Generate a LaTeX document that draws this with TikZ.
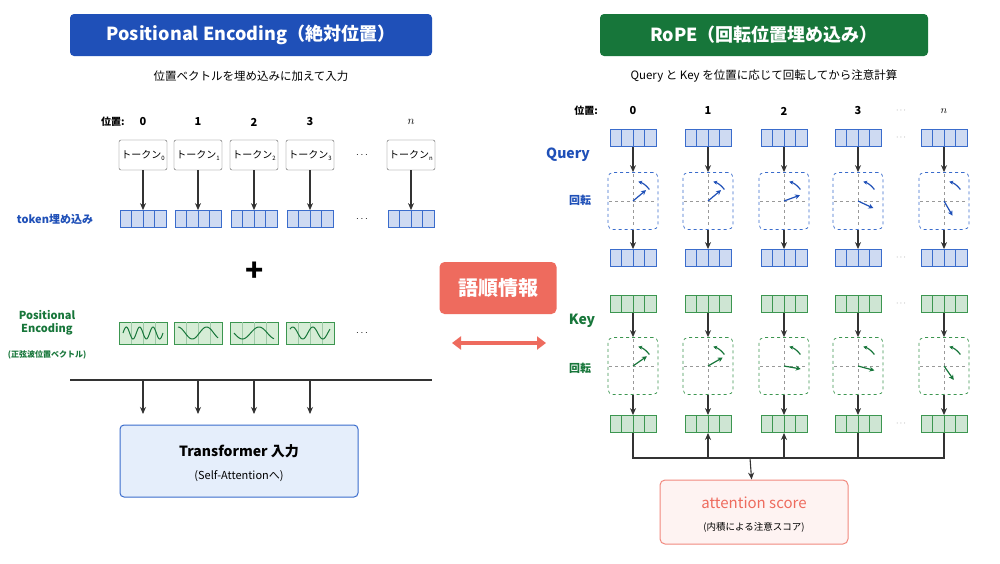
\documentclass[tikz,border=0pt]{standalone}
\usepackage{fontspec}
\setmainfont{Noto Sans CJK JP}
\usetikzlibrary{arrows.meta,positioning}
\definecolor{tblue}{HTML}{1F50B8}
\definecolor{tgreen}{HTML}{17763A}
\definecolor{vb}{HTML}{3A6CCC}
\definecolor{vbf}{HTML}{CFE0F8}
\definecolor{vg}{HTML}{3C9650}
\definecolor{vgf}{HTML}{D6EDD6}
\definecolor{tred}{HTML}{EE6B5E}
\definecolor{gr}{HTML}{333333}
\newcommand{\sbs}[1]{\raisebox{-2pt}{\fontsize{6}{6}\selectfont #1}}
\begin{document}
\begin{tikzpicture}[x=1pt,y=-1pt,
  arr/.style={-{Stealth[length=7pt,width=6pt]},gr,line width=1.1pt},
  vec/.style={draw=#1,fill=#1!25,line width=0.8pt,minimum width=46pt,minimum height=17pt,inner sep=0pt,
    path picture={\foreach \i in {1,2,3}{\draw[#1,line width=0.6pt] ([xshift=\i*11.5pt]path picture bounding box.south west)--([xshift=\i*11.5pt]path picture bounding box.north west);}}},
  tok/.style={draw=gr!80,rounded corners=2pt,fill=white,minimum width=48pt,minimum height=30pt,inner sep=1pt,font=\fontsize{10}{11}\selectfont},
  wave/.style={draw=vg,fill=vgf,line width=0.8pt,minimum width=48pt,minimum height=22pt,inner sep=0pt},
  rot/.style={draw=#1,dashed,rounded corners=5pt,minimum width=50pt,minimum height=57pt,inner sep=0pt,line width=0.7pt},
  title/.style={rounded corners=4pt,text=white,font=\fontsize{18}{21}\selectfont\bfseries,inner sep=0pt},
  lab/.style={font=\fontsize{11}{13}\selectfont\bfseries}]
\useasboundingbox (0,0) rectangle (1000,563);
\fill[white] (0,0) rectangle (1000,563);
% ===== Left =====
\node[title,fill=tblue,minimum width=362pt,minimum height=42pt] (tl) at (251,35) {Positional Encoding（絶対位置）};
\node[font=\fontsize{11.5}{13}\selectfont] (sl) at (251,76) {位置ベクトルを埋め込みに加えて入力};
\node[lab,font=\fontsize{10}{12}\selectfont\bfseries] (pl) at (113,122) {位置:};
\foreach \cx/\n in {143/0,198/1,254/2,310/3}{
  \node[lab] (pn\n) at (\cx,122) {\n};
  \node[tok] (t\n) at (\cx,155) {トークン\sbs{\n}};
  \node[vec=vb] (e\n) at (\cx,219) {};
  \draw[arr] (t\n) -- (e\n);
}
\node[lab,font=\fontsize{13}{13}\selectfont\itshape] (pnn) at (411,122) {$n$};
\node[tok] (tn) at (411,155) {トークン\sbs{n}};
\node[vec=vb] (en) at (411,219) {};
\draw[arr] (tn) -- (en);
\node (d1) at (362,155) {$\cdots$};
\node (d2) at (362,219) {$\cdots$};
\node[lab,text=tblue] (lt) at (55,219) {token埋め込み};
\node[font=\fontsize{30}{30}\selectfont\bfseries] (plus) at (255,272) {+};
\foreach \cx/\n/\f/\a in {143/0/3/0,198/1/1.4/90,254/2/1.2/180,310/3/2/40}{
  \node[wave] (w\n) at (\cx,333) {};
  \foreach \i in {1,2,3}{\draw[vg!50,line width=0.4pt] (\cx-24+\i*12,322)--(\cx-24+\i*12,344);}
  \draw[tgreen,line width=1pt,domain=0:40,samples=50,variable=\t] plot ({\cx-20+\t},{333-6*sin(\t*9*\f+\a)});
}
\node (d3) at (362,333) {$\cdots$};
\node[align=center,text=tgreen,font=\fontsize{11}{13}\selectfont\bfseries] (lp) at (47,323) {Positional\\Encoding};
\node[text=tgreen,font=\fontsize{8}{10}\selectfont\bfseries] (lp2) at (47,355) {(正弦波位置ベクトル)};
\coordinate (hl) at (70,380); \coordinate (hr) at (432,380);
\draw[gr,line width=1.2pt] (hl) -- (hr);
\node[draw=vb,fill=vbf!55,rounded corners=4pt,line width=1pt,minimum width=238pt,minimum height=72pt] (tr) at (239,461) {};
\node[font=\fontsize{14}{16}\selectfont\bfseries] (tr1) at (239,451) {Transformer 入力};
\node[font=\fontsize{11}{13}\selectfont] (tr2) at (239,476) {(Self-Attentionへ)};
\foreach \cx/\n in {143/0,198/1,254/2,310/3}{
  \coordinate (hc\n) at (\cx,380);
  \draw[arr] (hc\n) -- (\cx,414);
}
% ===== Middle =====
\node[fill=tred,rounded corners=5pt,minimum width=117pt,minimum height=52pt,text=white,font=\fontsize{20}{22}\selectfont\bfseries] (mid) at (498,288) {語順情報};
\coordinate (ml) at (452,343); \coordinate (mr) at (546,343);
\draw[tred,line width=4pt,{Triangle[length=9pt,width=13pt]}-{Triangle[length=9pt,width=13pt]}] (ml) -- (mr);
% ===== Right =====
\node[title,fill=tgreen,minimum width=328pt,minimum height=42pt] (tr0) at (764,35) {RoPE（回転位置埋め込み）};
\node[font=\fontsize{11.5}{13}\selectfont] (sr) at (764,76) {Query と Key を位置に応じて回転してから注意計算};
\node[lab,font=\fontsize{10}{12}\selectfont\bfseries] (pr) at (586,111) {位置:};
\node[lab,text=tblue,font=\fontsize{14}{16}\selectfont\bfseries] (lq) at (568,155) {Query};
\node[lab,text=tblue] (lr1) at (580,200) {回転};
\node[lab,text=tgreen,font=\fontsize{14}{16}\selectfont\bfseries] (lk) at (582,321) {Key};
\node[lab,text=tgreen] (lr2) at (580,368) {回転};
\foreach \cx/\n/\lb/\qa/\ka in {633/0/0/40/35,708/1/1/40/30,784/2/2/20/-10,858/3/3/-25/-15,944/n/$n$/-60/-55}{
  \node[lab] (rp\n) at (\cx,111) {\lb};
  % Query
  \node[vec=vb] (q\n) at (\cx,138) {};
  \node[rot=vb] (qr\n) at (\cx,201) {};
  \node[vec=vb] (qo\n) at (\cx,258) {};
  \draw[arr] (q\n) -- (qr\n);
  \draw[arr] (qr\n) -- (qo\n);
  \draw[gr!50,dashed,line width=0.4pt] (\cx-24,201) -- (\cx+24,201) (\cx,174) -- (\cx,228);
  \draw[tblue,line width=1.2pt,-{Stealth[length=5pt,width=5pt]}] (\cx,201) -- ++({17*cos(\qa)},{-17*sin(\qa)});
  \draw[tblue,line width=1.2pt,{Stealth[length=4pt,width=4pt]}-] ({\cx+20*cos(75)},{201-20*sin(75)}) arc[start angle=-75,end angle=-35,radius=20];
  % Key
  \node[vec=vg] (k\n) at (\cx,304) {};
  \node[rot=vg] (kr\n) at (\cx,366) {};
  \node[vec=vg] (ko\n) at (\cx,424) {};
  \draw[arr] (k\n) -- (kr\n);
  \draw[arr] (kr\n) -- (ko\n);
  \draw[gr!50,dashed,line width=0.4pt] (\cx-24,366) -- (\cx+24,366) (\cx,339) -- (\cx,393);
  \draw[tgreen,line width=1.2pt,-{Stealth[length=5pt,width=5pt]}] (\cx,366) -- ++({17*cos(\ka)},{-17*sin(\ka)});
  \draw[tgreen,line width=1.2pt,{Stealth[length=4pt,width=4pt]}-] ({\cx+20*cos(75)},{366-20*sin(75)}) arc[start angle=-75,end angle=-35,radius=20];
  \coordinate (b\n) at (\cx,458);
}
\foreach \y/\m in {111/a,138/b,258/c,304/d,424/e}{\node[gr!70,font=\fontsize{8}{8}\selectfont] (dd\m) at (901,\y) {$\cdots$};}
\draw[gr,line width=1.1pt] (ko0) -- (b0) -- (bn) -- (kon);
\draw[gr,line width=1.1pt] (ko3) -- (b3);
\draw[arr] (b1) -- (ko1);
\draw[arr] (b2) -- (ko2);
\node[draw=tred!80,fill=tred!8,rounded corners=5pt,line width=1pt,minimum width=188pt,minimum height=64pt] (as) at (754,512) {};
\node[text=tred,font=\fontsize{15}{17}\selectfont] (as1) at (754,503) {attention score};
\node[font=\fontsize{9.5}{11}\selectfont] (as2) at (754,527) {(内積による注意スコア)};
\coordinate (bm) at (750,458);
\draw[arr] (bm) -- (as);
\end{tikzpicture}
\end{document}
